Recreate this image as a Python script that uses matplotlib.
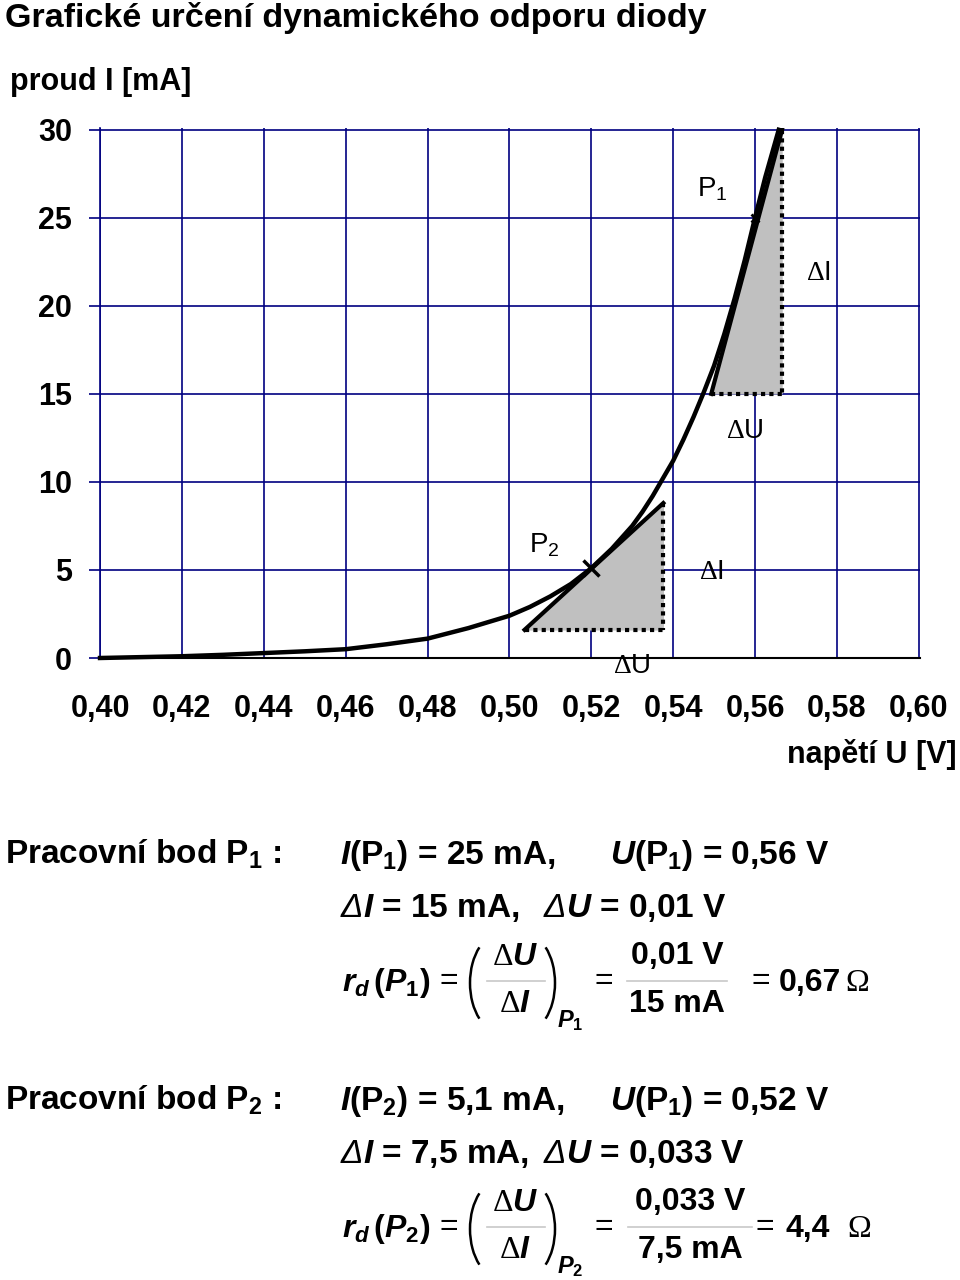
import matplotlib
matplotlib.use('Agg')
import matplotlib.pyplot as plt
from matplotlib.patches import Arc

plt.rcParams['font.family'] = ['Liberation Sans', 'DejaVu Sans']
plt.rcParams['mathtext.fontset'] = 'custom'
plt.rcParams['mathtext.rm'] = 'Liberation Sans:bold'
plt.rcParams['mathtext.it'] = 'Liberation Sans:italic:bold'
plt.rcParams['mathtext.bf'] = 'Liberation Sans:italic'
plt.rcParams['mathtext.sf'] = 'Liberation Serif'

NAVY = '#000080'
GRAY = '#c0c0c0'

# V-A charakteristika diody
napeti = [0.40, 0.42, 0.43, 0.44, 0.45, 0.46, 0.47, 0.48, 0.49, 0.50,
          0.505, 0.51, 0.515, 0.52, 0.525, 0.53, 0.5325, 0.535, 0.5375,
          0.54, 0.5425, 0.545, 0.5475, 0.55, 0.5525, 0.555, 0.5575,
          0.56, 0.5625, 0.5658]
proud = [0.0, 0.1, 0.18, 0.28, 0.38, 0.5, 0.78, 1.1, 1.7, 2.4,
         2.9, 3.5, 4.2, 5.1, 6.2, 7.5, 8.3, 9.2, 10.2,
         11.2, 12.4, 13.7, 15.1, 16.6, 18.4, 20.4, 22.6,
         25.0, 27.3, 30.0]

p1 = (0.56, 25.0)
p2 = (0.52, 5.1)
tecna1_u = [0.5493, 0.5666]
tecna1_i = [15.0, 30.0]
tecna2_u = [0.5037, 0.5376]
tecna2_i = [1.6, 8.8]

x_ticks = [0.40, 0.42, 0.44, 0.46, 0.48, 0.50, 0.52, 0.54, 0.56, 0.58, 0.60]
x_labels = ['0,40', '0,42', '0,44', '0,46', '0,48', '0,50', '0,52', '0,54', '0,56', '0,58', '0,60']
y_ticks = [0, 5, 10, 15, 20, 25, 30]

fig = plt.figure(figsize=(9.6, 12.8), dpi=100)
ax = fig.add_axes([100 / 960, 622 / 1280, 820 / 960, 530 / 1280])
ax.set_xlim(0.40, 0.6003)
ax.set_ylim(0, 30.1)
ax.set_axisbelow(True)
ax.grid(True, color=NAVY, lw=1.2)
ax.spines['top'].set_visible(False)
ax.spines['right'].set_visible(False)
ax.spines['left'].set_color(NAVY)
ax.spines['left'].set_linewidth(1.2)
ax.spines['bottom'].set_linewidth(1.5)
ax.set_xticks(x_ticks)
ax.set_xticklabels(x_labels, fontsize=22, fontweight='bold')
ax.set_yticks(y_ticks)
ax.set_yticklabels([str(v) for v in y_ticks], fontsize=22, fontweight='bold')
ax.tick_params(axis='x', length=0, pad=26)
ax.tick_params(axis='y', length=8, width=1.2, color=NAVY, pad=12)

# trojuhelniky
for tu, ti in [(tecna1_u, tecna1_i), (tecna2_u, tecna2_i)]:
    ax.fill([tu[0], tu[1], tu[1]], [ti[0], ti[1], ti[0]], color=GRAY, zorder=2)
    ax.plot([tu[1], tu[1]], [ti[1], ti[0]], color='black', lw=3, ls=(0, (1, 1)), zorder=3)
    ax.plot([tu[0], tu[1]], [ti[0], ti[0]], color='black', lw=3, ls=(0, (1, 1)), zorder=3)
    ax.plot(tu, ti, color='black', lw=3, zorder=4)

ax.plot(napeti, proud, color='black', lw=3.2, zorder=5, clip_on=False)
ax.plot(*p1, marker='x', ms=6, mew=2, color='black', zorder=3)
ax.plot(*p2, marker='x', ms=12, mew=2.5, color='black', zorder=6)

lab = dict(fontsize=20, ha='center', va='center')
ax.text(0.5495, 26.6, r'P$\mathregular{_1}$', **lab)
ax.text(0.5575, 12.9, r'$\mathsf{\Delta}$U', **lab)
ax.text(0.5085, 6.4, r'P$\mathregular{_2}$', **lab)
ax.text(0.5298, -0.45, r'$\mathsf{\Delta}$U', **lab)
ax.text(0.5756, 21.85, r'$\mathsf{\Delta}$I', **lab)
ax.text(0.5493, 4.87, r'$\mathsf{\Delta}$I', **lab)

# texty v pixelech
ov = fig.add_axes([0, 0, 1, 1])
ov.set_xlim(0, 960)
ov.set_ylim(1280, 0)
ov.axis('off')

b = dict(fontweight='bold')
ov.text(5, 18, 'Grafické určení dynamického odporu diody', fontsize=24.5, va='center', **b)
ov.text(10, 82, 'proud I [mA]', fontsize=22, va='center', **b)
ov.text(957, 755, 'napětí U [V]', fontsize=22, va='center', ha='right', **b)

fs = 24
bloky = [
    (864, 'Pracovní bod $\\mathregular{P_1}$ :', '$I\\mathregular{(P_1)}$ = 25 mA,',
     '$U\\mathregular{(P_1)}$ = 0,56 V', '$\\mathbf{\\Delta}I$ = 15 mA,', '$\\mathbf{\\Delta}U$ = 0,01 V',
     '1', '0,01 V', '15 mA', '0,67'),
    (1110, 'Pracovní bod $\\mathregular{P_2}$ :', '$I\\mathregular{(P_2)}$ = 5,1 mA,',
     '$U\\mathregular{(P_1)}$ = 0,52 V', '$\\mathbf{\\Delta}I$ = 7,5 mA,', '$\\mathbf{\\Delta}U$ = 0,033 V',
     '2', '0,033 V', '7,5 mA', '4,4'),
]
for y, t0, t1, t2, t3, t4, n, cit, jm, vysl in bloky:
    ov.text(5, y, t0, fontsize=fs, va='baseline', **b)
    ov.text(340, y, t1, fontsize=fs, va='baseline', **b)
    ov.text(610, y, t2, fontsize=fs, va='baseline', **b)
    ov.text(340, y + 53, t3, fontsize=fs, va='baseline', **b)
    ov.text(543, y + 53, t4, fontsize=fs, va='baseline', **b)

    fs2 = 23
    fy = y + 117  # stred zlomku
    ov.text(342, fy + 10, '$r_d\\,(P_%s)$' % n, fontsize=fs2, va='baseline')
    ov.text(449, fy, '=', fontsize=fs2, ha='center', va='center')
    ov.add_patch(Arc((500, fy + 2), 60, 98, theta1=120, theta2=240, lw=1.8, color='black'))
    ov.add_patch(Arc((525, fy + 2), 60, 98, theta1=-60, theta2=60, lw=1.8, color='black'))
    ov.text(515, fy - 24, '$\\mathsf{\\Delta}U$', fontsize=fs2, ha='center', va='center')
    ov.text(515, fy + 23, '$\\mathsf{\\Delta}I$', fontsize=fs2, ha='center', va='center')
    ov.plot([487, 545], [fy, fy], color='#c8c8c8', lw=1.2)
    ov.text(557, fy + 46, '$P_%s$' % n, fontsize=17, va='baseline')
    ov.text(604, fy, '=', fontsize=fs2, ha='center', va='center')
    cx = 677 if n == '1' else 690
    sirka = 50 if n == '1' else 62
    ov.text(cx, fy - 25, cit, fontsize=fs2, ha='center', va='center', **b)
    ov.text(cx, fy + 23, jm, fontsize=fs2, ha='center', va='center', **b)
    ov.plot([cx - sirka, cx + sirka], [fy, fy], color='#c8c8c8', lw=1.2)
    ov.text(761 if n == '1' else 765, fy, '=', fontsize=fs2, ha='center', va='center')
    ov.text(779 if n == '1' else 785, fy + 10, vysl, fontsize=fs2, va='baseline', **b)
    ov.text(845 if n == '1' else 847, fy + 10, 'Ω', fontsize=fs2, va='baseline', family='Liberation Serif')

fig.savefig('out.png', dpi=100)
